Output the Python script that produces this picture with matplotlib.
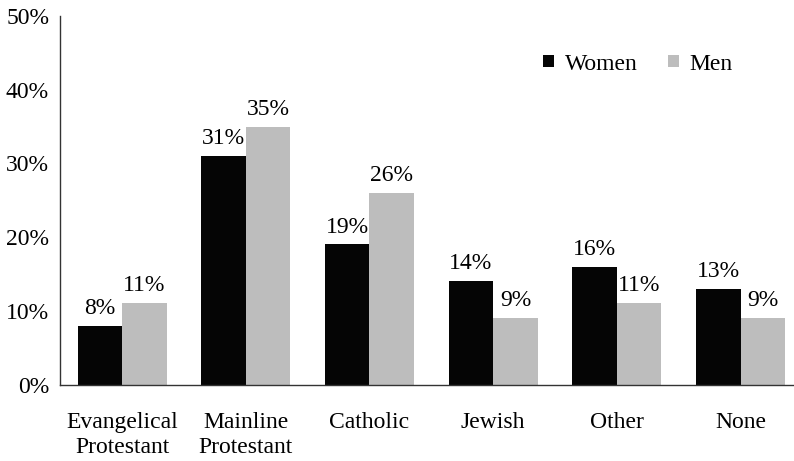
import matplotlib
matplotlib.use("Agg")
import matplotlib.pyplot as plt
import numpy as np
from matplotlib.patches import Patch

categories = ["Evangelical\nProtestant", "Mainline\nProtestant", "Catholic",
              "Jewish", "Other", "None"]
women = [8, 31, 19, 14, 16, 13]
men = [11, 35, 26, 9, 11, 9]
y_ticks = [0, 10, 20, 30, 40, 50]

plt.rcParams["font.family"] = ["Liberation Serif", "DejaVu Serif"]

W, H = 794, 461
fs = 17
fig = plt.figure(figsize=(W / 100, H / 100), dpi=100)
left_px, right_px = 60.2, 794
bottom_px, top_px = 384.5, 16
ax = fig.add_axes([left_px / W, (H - bottom_px) / H,
                   (right_px - left_px) / W, (bottom_px - top_px) / H])

x = np.arange(len(categories))
bw = 0.36
women_color = "#050505"
men_color = "#bdbdbd"
ax.bar(x - bw / 2, women, bw, color=women_color, label="Women")
ax.bar(x + bw / 2, men, bw, color=men_color, label="Men")

for xi, w, m in zip(x, women, men):
    ax.annotate(f"{w}%", (xi - bw / 2, w), xytext=(0, 5),
                textcoords="offset points", ha="center", va="bottom",
                fontsize=fs)
    ax.annotate(f"{m}%", (xi + bw / 2, m), xytext=(0, 5),
                textcoords="offset points", ha="center", va="bottom",
                fontsize=fs)

ax.set_xlim(-0.5, -0.5 + (right_px - left_px) / 123.7)
ax.set_ylim(0, 50)
ax.set_yticks(y_ticks)
ax.set_yticklabels([f"{t}%" for t in y_ticks], fontsize=fs)
ax.set_xticks(x)
ax.set_xticklabels(categories, fontsize=fs, linespacing=1.25)
ax.tick_params(axis="y", length=0, pad=8)
ax.tick_params(axis="x", length=0, pad=20)

for side in ("top", "right"):
    ax.spines[side].set_visible(False)
for side in ("left", "bottom"):
    ax.spines[side].set_color("#333333")
    ax.spines[side].set_linewidth(1.0)

handles = [Patch(facecolor=women_color, label="Women"),
           Patch(facecolor=men_color, label="Men")]
fig.legend(handles=handles, loc="center", bbox_to_anchor=(638 / W, 1 - 64 / H),
           ncol=2, frameon=False, fontsize=fs, handlelength=0.45,
           handleheight=0.45, handletextpad=0.45, columnspacing=1.3)

fig.savefig("out.png", dpi=100)
